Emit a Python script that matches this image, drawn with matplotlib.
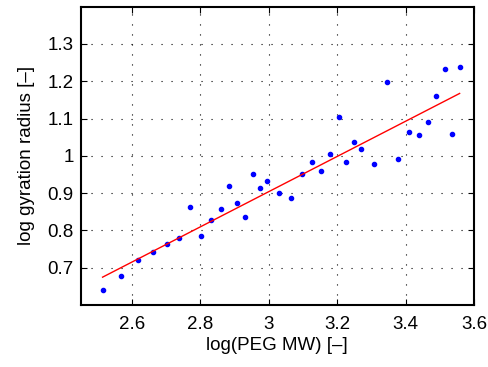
import numpy as np
import matplotlib
matplotlib.use('Agg')
import matplotlib.pyplot as plt

plt.rcParams['font.family'] = ['Liberation Sans', 'DejaVu Sans']

# log(PEG MW) and log gyration radius
log_mw = [2.514, 2.569, 2.618, 2.661, 2.701, 2.737, 2.771, 2.801, 2.831,
          2.859, 2.885, 2.908, 2.931, 2.953, 2.974, 2.994, 3.031, 3.065,
          3.097, 3.126, 3.154, 3.179, 3.205, 3.227, 3.249, 3.271, 3.309,
          3.345, 3.378, 3.410, 3.439, 3.465, 3.490, 3.514, 3.537, 3.558]
log_rg = [0.639, 0.679, 0.720, 0.742, 0.764, 0.779, 0.862, 0.786, 0.828,
          0.857, 0.919, 0.873, 0.837, 0.950, 0.915, 0.932, 0.900, 0.886,
          0.950, 0.984, 0.959, 1.006, 1.105, 0.984, 1.036, 1.018, 0.977,
          1.197, 0.991, 1.064, 1.055, 1.090, 1.160, 1.234, 1.058, 1.239]

# linear fit as drawn in the picture (slope, intercept)
fit_slope = 0.472
fit_intercept = -0.512

x = np.array(log_mw)
y = np.array(log_rg)
xf = np.array([x.min(), x.max()])

fig = plt.figure(figsize=(4.89, 3.67), dpi=100)
ax = fig.add_axes([0.165, 0.169, 0.8043, 0.8127])

ax.plot(x, y, '.', color='b', markersize=6)
ax.plot(xf, fit_slope * xf + fit_intercept, '-', color='r', linewidth=1)

ax.set_xlim(2.45, 3.6)
ax.set_ylim(0.6, 1.4)
ax.set_xticks(np.arange(2.6, 3.61, 0.2))
ax.set_xticklabels(['2.6', '2.8', '3', '3.2', '3.4', '3.6'])
ax.set_yticks(np.arange(0.7, 1.31, 0.1))
ax.set_yticklabels(['0.7', '0.8', '0.9', '1', '1.1', '1.2', '1.3'])

ax.grid(True, linestyle=(0, (1, 8)), color='k', linewidth=0.8)
ax.tick_params(direction='in', top=True, right=True, labelsize=13.5, length=4)
ax.tick_params(axis='x', pad=8)
ax.tick_params(axis='y', pad=5)
for spine in ax.spines.values():
    spine.set_linewidth(1.5)

ax.set_xlabel('log(PEG MW) [\u2013]', fontsize=13.5, labelpad=3)
ax.set_ylabel('log gyration radius [\u2013]', fontsize=13.5, labelpad=9)

plt.savefig('out.png', dpi=100)
